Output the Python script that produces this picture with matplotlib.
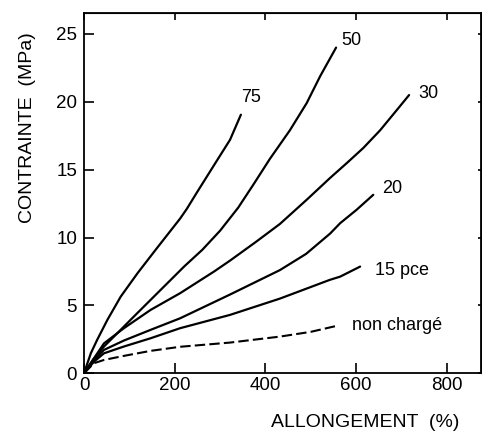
import matplotlib
matplotlib.use("Agg")
import matplotlib.pyplot as plt

plt.rcParams['font.family'] = ['Liberation Sans', 'DejaVu Sans']

# Data (allongement %, contrainte MPa)
x_75 = [0, 15, 29, 51.5, 81, 118, 158, 212, 226.5, 248.6, 285, 322, 346]
y_75 = [0, 1.47, 2.46, 3.93, 5.65, 7.37, 9.1, 11.4, 12.1, 13.3, 15.24, 17.2, 19.05]

x_50 = [0, 20, 44, 73.5, 110, 147, 184, 221, 261, 300, 340, 373.5, 410, 454, 491, 521, 556]
y_50 = [0, 1.0, 1.97, 2.95, 4.18, 5.41, 6.64, 7.87, 9.1, 10.5, 12.2, 13.9, 15.8, 17.9, 19.9, 21.9, 24.0]

x_30 = [0, 22, 44, 88, 147, 212, 287, 322, 380, 432, 491, 543, 580, 616, 653, 690, 717]
y_30 = [0, 1.1, 2.2, 3.32, 4.67, 5.9, 7.5, 8.3, 9.7, 11.0, 12.78, 14.4, 15.5, 16.6, 17.9, 19.4, 20.5]

x_20 = [0, 22, 44, 88, 147, 212, 322, 432, 490, 543, 565, 601, 638]
y_20 = [0, 0.95, 1.72, 2.41, 3.2, 4.05, 5.8, 7.6, 8.8, 10.3, 11.06, 12.04, 13.15]

x_15 = [0, 22, 44, 88, 147, 212, 322, 432, 542, 565, 609]
y_15 = [0, 0.85, 1.47, 1.97, 2.58, 3.32, 4.3, 5.5, 6.88, 7.12, 7.86]

x_nc = [0, 22, 44, 88, 147, 212, 322, 432, 500, 557]
y_nc = [0, 0.74, 0.98, 1.28, 1.65, 1.95, 2.26, 2.7, 3.05, 3.49]

labels = ["75", "50", "30", "20", "15 pce", "non chargé"]
label_x = [369, 590, 759, 679, 702, 691]
label_y = [20.3, 24.55, 20.65, 13.64, 7.55, 3.5]

x_ticks = [0, 200, 400, 600, 800]
y_ticks = [0, 5, 10, 15, 20, 25]

fig = plt.figure(figsize=(4.82, 4.32), dpi=100)
ax = fig.add_axes([0.1743, 0.136, 0.824, 0.834])

series = [(x_75, y_75), (x_50, y_50), (x_30, y_30), (x_20, y_20), (x_15, y_15)]
for xs, ys in series:
    ax.plot(xs, ys, color='black', lw=1.6, solid_capstyle='round', solid_joinstyle='round')
ax.plot(x_nc, y_nc, color='black', lw=1.5, dashes=(5, 2))

for t, lx, ly in zip(labels, label_x, label_y):
    ax.text(lx, ly, t, ha='center', va='center', fontsize=13)

ax.set_xlim(0, 876)
ax.set_ylim(0, 26.55)
ax.set_xticks(x_ticks)
ax.set_yticks(y_ticks)
ax.tick_params(axis='x', direction='in', length=7.5, width=1.2, labelsize=13.5, pad=2.5)
ax.tick_params(axis='y', direction='in', length=7.5, width=1.2, labelsize=13.5, pad=5)
for s in ax.spines.values():
    s.set_linewidth(1.3)

top = ax.secondary_xaxis('top')
top.set_xticks(x_ticks)
top.tick_params(direction='in', length=5, width=1.2, labeltop=False)
right = ax.secondary_yaxis('right')
right.set_yticks(y_ticks)
right.tick_params(direction='in', length=2.5, width=1.2, labelright=False)

ax.set_xlabel("ALLONGEMENT  (%)", fontsize=14)
ax.xaxis.set_label_coords(0.708, -0.112)
ax.set_ylabel("CONTRAINTE  (MPa)", fontsize=14)
ax.yaxis.set_label_coords(-0.121, 0.683)

fig.savefig("out.png", dpi=100)
